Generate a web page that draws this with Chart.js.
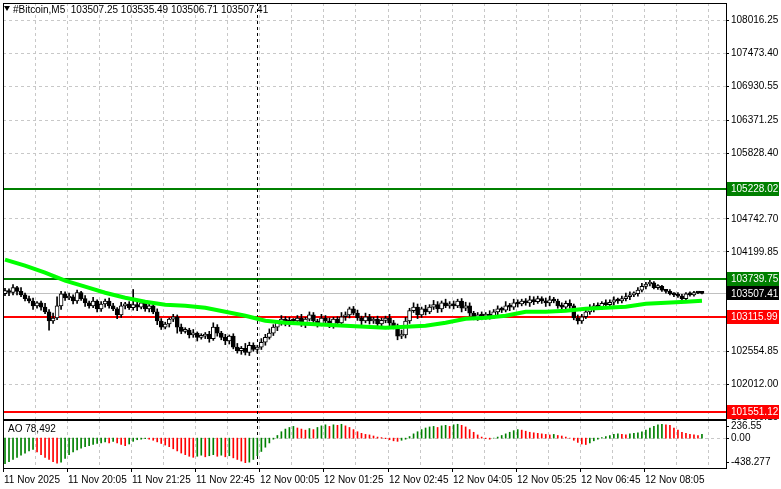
<!DOCTYPE html>
<html><head><meta charset="utf-8">
<script src="https://cdn.jsdelivr.net/npm/chart.js@4.4.1/dist/chart.umd.min.js"></script>
<style>
html,body{margin:0;padding:0;background:#fff;width:781px;height:489px;overflow:hidden}
#w1{position:absolute;left:0;top:0;width:781px;height:420px}
#w2{position:absolute;left:0;top:420px;width:781px;height:69px}
</style></head><body>
<div id="w1"><canvas id="c1"></canvas></div>
<div id="w2"><canvas id="c2"></canvas></div>
<script>
const title = "#Bitcoin,M5  103507.25 103535.49 103506.71 103507.41";
const closes = [103550,103520,103600,103540,103480,
103420,103380,103300,103350,103280,103200,
103050,103100,
103300,103500,103430,
103450,103380,103520,103420,103350,103300,103380,103250,103330,
103380,103300,103250,103150,103300,103330,103270,
103320,103280,103350,103250,103300,103200,
103050,102950,103000,103080,103120,
102950,102880,102900,
102820,102850,102780,102800,102830,102760,102950,
102850,102780,102720,102800,
102620,102560,102600,102530,102650,
102580,102620,102700,
102780,102850,102950,
103030,103080,103000,103060,
103050,103100,103000,103080,
103150,103050,103000,103100,103050,102980,103080,103020,103120,
103150,103250,103180,103100,103050,
103120,103050,103080,103000,103060,103100,103020,
102950,102800,102820,
103050,103220,103280,103150,103250,
103200,103280,103320,103250,103350,103300,
103330,103300,103380,103260,103300,103180,
103100,103150,103130,103160,103120,103200,103250,
103230,103300,103280,103350,103330,
103380,103350,103400,103370,103420,103380,103350,
103400,103380,103300,103280,103340,103300,
103100,103050,103120,103200,
103250,103300,103280,103340,103320,
103360,103400,103380,103420,103450,
103480,103500,103560,103620,103660,
103680,103600,103620,103560,
103540,103500,103480,103460,103420,
103500,103480,103520,103510,103507];
const firstOpen = 103500;
const wickUp = [40,30,50,20,60,30,40,50,20,30,60,40,80,150,40,30,60,30,40,20,50,30,60,20,40,
30,50,40,20,60,30,40,250,50,30,40,60,30,50,40,30,20,40,30,50,40,30,60,20,40,
30,50,70,40,30,50,20,40,60,30,80,50,40,30,60,50,70,40,30,60,40,50,30,40,60,
30,50,40,30,60,40,50,30,40,70,50,30,40,50,30,60,40,30,50,40,30,60,40,50,80,
60,40,70,50,30,60,40,70,50,30,60,40,50,30,40,60,50,30,40,50,30,60,40,50,30,
70,40,60,50,30,40,60,50,40,30,50,60,40,30,50,40,60,30,50,40,60,70,40,50,30,
60,40,50,30,40,60,50,30,40,50,30,40,20,30,20,10,30,20,40,30,20,30,20,10,28];
const wickDn = [30,50,40,60,30,40,30,60,40,50,30,150,40,30,60,40,30,50,40,30,60,40,30,50,40,
50,40,30,60,40,50,30,40,60,30,40,50,30,60,40,30,50,40,100,40,30,50,40,60,30,
40,60,30,50,40,60,50,30,40,60,40,50,30,60,40,50,30,40,60,50,30,40,50,30,40,
60,30,40,50,30,60,40,50,30,40,60,50,30,40,60,30,50,40,60,30,40,50,30,60,40,
50,40,30,60,40,50,30,40,60,50,30,40,50,30,60,40,50,30,40,60,50,40,30,50,40,
30,60,40,50,30,40,60,50,30,40,60,50,30,40,50,60,40,30,50,40,30,40,50,30,40,
40,30,50,40,30,40,50,30,40,30,40,30,20,30,20,30,20,30,20,30,20,20,20,10,10];
const maIdx = [0,5,10,15,20,25,30,35,40,45,50,55,60,65,70,75,80,85,90,95,100,105,110,115,120,125,130,135,140,145,150,155,160,165,170,174];
const maVal = [104063,103964,103848,103716,103616,103517,103434,103368,103319,103302,103269,103203,103137,103054,103021,103005,102988,102971,102955,102938,102955,102971,103021,103087,103104,103137,103203,103203,103219,103252,103269,103286,103335,103352,103368,103385];
const ao = [-480,-440,-400,-360,-320,-280,-240,-210,
-260,-310,-360,-400,-440,-470,-450,
-380,-310,-260,-220,
-190,-160,-140,-120,-100,-90,
-70,-90,-60,
-90,-120,-140,-110,
-60,-30,-20,-10,-20,
-40,-70,-100,-130,-160,
-200,-240,-280,-310,-340,-360,
-340,-320,-350,-330,-310,-340,-320,-350,-330,
-370,-400,-430,-460,-450,
-400,-330,-250,-170,-90,-20,
50,120,170,200,220,190,
170,150,180,160,200,
230,250,220,250,240,260,
230,200,160,120,90,
70,60,40,20,10,-10,
-30,-50,-60,-40,-20,
30,80,120,160,190,
210,220,200,230,240,220,250,260,240,210,
160,110,60,20,
-10,-20,0,20,
50,80,110,140,160,150,130,110,
100,90,80,70,60,70,50,40,20,0,
-40,-80,-110,-120,-90,
-50,-20,10,30,50,
70,80,70,60,80,90,100,120,
150,190,220,250,260,250,240,
190,150,110,90,70,60,50,70];
const priceTicks = [108016.25,107473.40,106930.55,106371.25,105828.40,105228.02,104742.70,104199.85,103739.75,103507.41,103115.99,102554.85,102012.00,101469.15];
const levels = [{v:105228.02,c:'#008000'},{v:103739.75,c:'#008000'},{v:103115.99,c:'#ff0000'},{v:101551.12,c:'#ff0000'}];
const lastPrice = 103507.41;
const aoTicks = [236.55,0,-438.277];
const aoTickText = ['236.55','0.00','-438.277'];
const aoLabel = 'AO 78,492';
const timeIdx = [0,16,32,48,64,80,96,112,128,144,160];
const timeLabels = ['11 Nov 2025','11 Nov 20:05','11 Nov 21:25','11 Nov 22:45','12 Nov 00:05','12 Nov 01:25','12 Nov 02:45','12 Nov 04:05','12 Nov 05:25','12 Nov 06:45','12 Nov 08:05'];
const sepIdx = 63;

const opens = closes.map((c,i)=> i===0 ? firstOpen : closes[i-1]);
const bodies = closes.map((c,i)=>({x:i,y:[opens[i],c]}));
const wicks = closes.map((c,i)=>({x:i,y:[Math.min(opens[i],c)-wickDn[i],Math.max(opens[i],c)+wickUp[i]]}));
const FONT = '10px "Liberation Sans", Arial, sans-serif';
const XMIN=-0.5, XMAX=180;

function vgrid(ctx,area,xs){
  ctx.save();ctx.strokeStyle='#c8c8c8';ctx.setLineDash([3,3]);ctx.lineWidth=1;
  for(let k=1;k<23;k++){const i=8*k-0.5;const x=Math.round(xs.getPixelForValue(i))+0.5;
    if(x>area.right-2)break;ctx.beginPath();ctx.moveTo(x,area.top);ctx.lineTo(x,area.bottom);ctx.stroke();}
  ctx.restore();
}
function sep(ctx,area,xs){
  ctx.save();ctx.strokeStyle='#000';ctx.setLineDash([3,3]);
  const x=Math.round(xs.getPixelForValue(sepIdx))+0.5;
  ctx.beginPath();ctx.moveTo(x,area.top);ctx.lineTo(x,area.bottom);ctx.stroke();ctx.restore();
}
function frame(ctx,area){
  ctx.save();ctx.strokeStyle='#000';ctx.lineWidth=1;ctx.setLineDash([]);
  ctx.strokeRect(area.left+0.5,area.top+0.5,area.right-area.left,area.bottom-area.top);ctx.restore();
}
function box(ctx,y,txt,bg,fg){
  ctx.fillStyle=bg;ctx.fillRect(727,Math.round(y)-7,52,14);
  ctx.fillStyle=fg;ctx.textAlign='left';ctx.textBaseline='middle';ctx.fillText(txt,731,y+0.5);
}

const mainPlug = {id:'mainPlug',
 beforeDatasetsDraw(ch){const {ctx,chartArea:a,scales:{x,y}}=ch;
  ctx.save();ctx.strokeStyle='#c8c8c8';ctx.setLineDash([3,3]);
  priceTicks.forEach(v=>{const p=Math.round(y.getPixelForValue(v))+0.5;if(p<a.bottom-2){ctx.beginPath();ctx.moveTo(a.left,p);ctx.lineTo(a.right,p);ctx.stroke();}});
  ctx.restore();
  vgrid(ctx,a,x);
  ctx.save();ctx.strokeStyle='#c0c0c0';ctx.lineWidth=1;const lp=Math.round(y.getPixelForValue(lastPrice))+0.5;
  ctx.beginPath();ctx.moveTo(a.left,lp);ctx.lineTo(a.right,lp);ctx.stroke();
  levels.forEach(l=>{const p=Math.round(y.getPixelForValue(l.v));ctx.strokeStyle=l.c;ctx.lineWidth=2;ctx.beginPath();ctx.moveTo(a.left,p);ctx.lineTo(a.right,p);ctx.stroke();});
  ctx.restore();
  sep(ctx,a,x);
 },
 afterDraw(ch){const {ctx,chartArea:a,scales:{y}}=ch;
  frame(ctx,a);
  ctx.save();ctx.font=FONT;ctx.fillStyle='#000';ctx.textBaseline='middle';ctx.textAlign='left';
  priceTicks.forEach(v=>{const p=y.getPixelForValue(v);
    ctx.fillRect(a.right,Math.round(p),3,1);ctx.fillText(v.toFixed(2),731,p+0.5);});
  levels.forEach(l=>box(ctx,y.getPixelForValue(l.v),l.v.toFixed(2),l.c,'#fff'));
  box(ctx,y.getPixelForValue(lastPrice),lastPrice.toFixed(2),'#000','#fff');
  ctx.fillStyle='#000';ctx.beginPath();ctx.moveTo(4,6);ctx.lineTo(10,6);ctx.lineTo(7,11);ctx.closePath();ctx.fill();
  ctx.fillText(title,13,10);
  ctx.restore();
 }};

new Chart(document.getElementById('c1'),{
 type:'bar',
 data:{datasets:[
  {type:'line',data:maIdx.map((v,k)=>({x:v,y:maVal[k]})),borderColor:'#00ff00',borderWidth:4,pointRadius:0,tension:0,order:0},
  {data:wicks,backgroundColor:'#000',barThickness:1,grouped:false,order:2},
  {data:bodies,backgroundColor:bodies.map(b=>b.y[1]>=b.y[0]?'#fff':'#000'),borderColor:'#000',borderWidth:1,borderSkipped:false,barThickness:4,minBarLength:2,grouped:false,order:1}
 ]},
 options:{responsive:true,maintainAspectRatio:false,animation:false,
  layout:{padding:{left:3,right:55,top:3,bottom:1}},
  plugins:{legend:{display:false},tooltip:{enabled:false}},
  scales:{x:{type:'linear',min:XMIN,max:XMAX,display:false,offset:false},
          y:{min:101433,max:108297,display:false}}},
 plugins:[mainPlug]});

const aoPlug = {id:'aoPlug',
 beforeDatasetsDraw(ch){const {ctx,chartArea:a,scales:{x,y}}=ch;
  vgrid(ctx,a,x);
  ctx.save();ctx.strokeStyle='#c8c8c8';ctx.setLineDash([3,3]);const z=Math.round(y.getPixelForValue(0))+0.5;
  ctx.beginPath();ctx.moveTo(a.left,z);ctx.lineTo(a.right,z);ctx.stroke();ctx.restore();
  sep(ctx,a,x);},
 afterDraw(ch){const {ctx,chartArea:a,scales:{x,y}}=ch;
  frame(ctx,a);
  ctx.save();ctx.font=FONT;ctx.fillStyle='#000';ctx.textBaseline='middle';ctx.textAlign='left';
  aoTicks.forEach((v,k)=>{const p=y.getPixelForValue(v);ctx.fillRect(a.right,Math.round(p),3,1);ctx.fillText(aoTickText[k],731,p+0.5);});
  ctx.fillText(aoLabel,8,9);
  ctx.textBaseline='alphabetic';
  timeIdx.forEach((i,k)=>{const px=Math.round(x.getPixelForValue(i-0.5));ctx.fillRect(px,a.bottom,1,4);ctx.fillText(timeLabels[k],px+1,a.bottom+15);});
  ctx.restore();}};

new Chart(document.getElementById('c2'),{
 type:'bar',
 data:{datasets:[{data:ao.map((v,i)=>({x:i,y:v})),
   backgroundColor:ao.map((v,i)=> i>0 && v<ao[i-1] ? '#ff0000' : '#008000'),barThickness:1}]},
 options:{responsive:true,maintainAspectRatio:false,animation:false,
  layout:{padding:{left:3,right:55,top:0,bottom:21}},
  plugins:{legend:{display:false},tooltip:{enabled:false}},
  scales:{x:{type:'linear',min:XMIN,max:XMAX,display:false,offset:false},
          y:{min:-560,max:340,display:false}}},
 plugins:[aoPlug]});
</script></body></html>
